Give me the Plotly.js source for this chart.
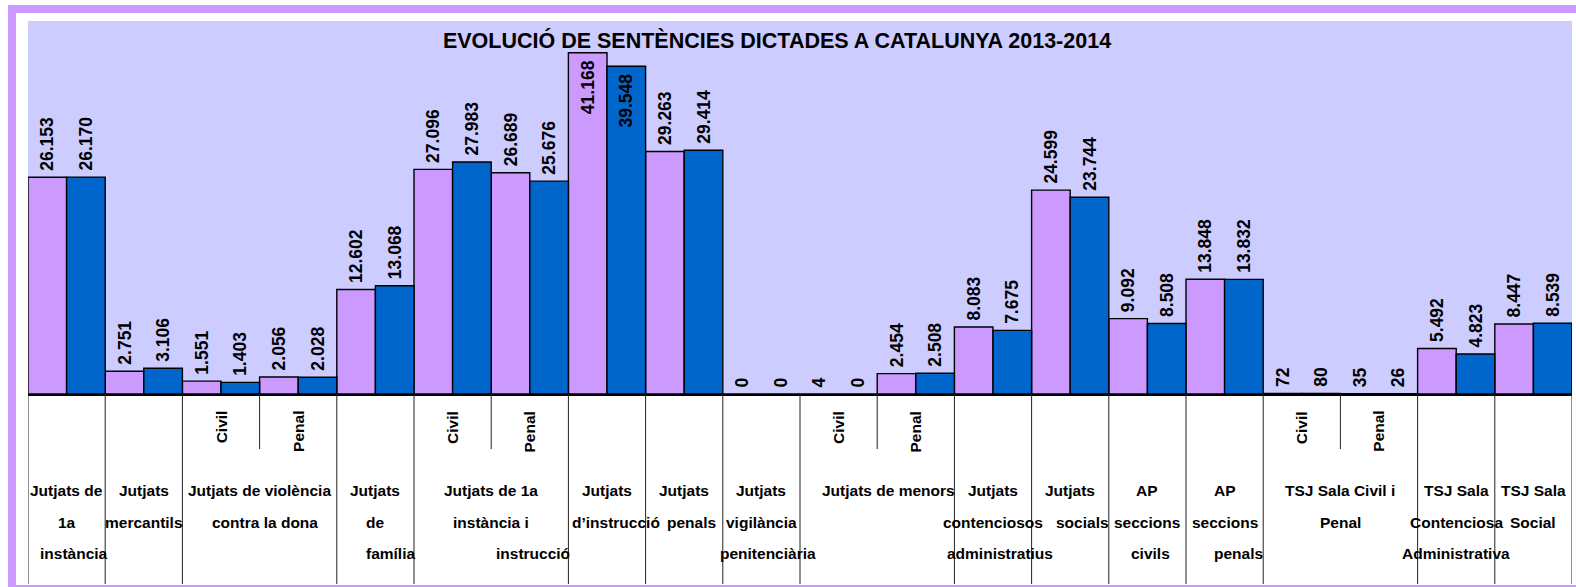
<!DOCTYPE html>
<html>
<head>
<meta charset="utf-8">
<script src="https://cdn.plot.ly/plotly-3.0.1.min.js"></script>
<style>html,body{margin:0;padding:0;background:#fff;}#chart{width:1576px;height:587px;}</style>
</head>
<body>
<div id="chart"></div>
<script>
// ---- data ----
const slots = ["1a instància","mercantils","violència Civil","violència Penal","família",
  "1a inst. i instr. Civil","1a inst. i instr. Penal","instrucció","penals","vigilància penitenciària",
  "menors Civil","menors Penal","contenciosos administratius","socials","AP civils","AP penals",
  "TSJ Civil","TSJ Penal","TSJ Contenciosa","TSJ Social"];
const values2013 = [26153, 2751, 1551, 2056, 12602, 27096, 26689, 41168, 29263, 0,
  4, 2454, 8083, 24599, 9092, 13848, 72, 35, 5492, 8447];
const values2014 = [26170, 3106, 1403, 2028, 13068, 27983, 25676, 39548, 29414, 0,
  0, 2508, 7675, 23744, 8508, 13832, 80, 26, 4823, 8539];
// main categories: [first slot, last slot, lines]
const mainCats = [
  [0, 0, ["Jutjats de", "1a", "instància"]],
  [1, 1, ["Jutjats", "mercantils"]],
  [2, 3, ["Jutjats de violència", "contra la dona"]],
  [4, 4, ["Jutjats", "de", "família"]],
  [5, 6, ["Jutjats de 1a", "instància i", "instrucció"]],
  [7, 7, ["Jutjats", "d\u2019instrucció"]],
  [8, 8, ["Jutjats", "penals"]],
  [9, 9, ["Jutjats", "vigilància", "penitenciària"]],
  [10, 11, ["Jutjats de menors"]],
  [12, 12, ["Jutjats", "contenciosos", "administratius"]],
  [13, 13, ["Jutjats", "socials"]],
  [14, 14, ["AP", "seccions", "civils"]],
  [15, 15, ["AP", "seccions", "penals"]],
  [16, 17, ["TSJ Sala Civil i", "Penal"]],
  [18, 18, ["TSJ Sala", "Contenciosa", "Administrativa"]],
  [19, 19, ["TSJ Sala", "Social"]]
];
// sub categories: [slot, label]
const subCats = [[2,"Civil"],[3,"Penal"],[5,"Civil"],[6,"Penal"],[10,"Civil"],[11,"Penal"],[16,"Civil"],[17,"Penal"]];
const titleText = "EVOLUCIÓ DE SENTÈNCIES DICTADES A CATALUNYA 2013-2014";

// ---- styling / layout helpers ----
const W = 1576, H = 587;
const L = 28, R = 1572, T = 21, B = 394;
const PW = R - L, PH = B - T;
const px2x = p => (p - L) / PW;
const py2y = p => (B - p) / PH;
// horizontal nudges (px) per main category line, imitating the original label wrapping
const lineShift = [[0,0,7],[0,0],[0,5],[0,0,15],[0,0,42],[0,9],[0,7],[0,0,7],[11],[0,0,7],[0,12],[0,0,3],[0,0,14],[0,0],[0,0,0],[0,0]];
const lineY = [490, 522, 553];
const tableBottom = 584;
const subTop = 411;

const xs = slots.map((_, i) => i);
const valFont = {family: "Liberation Sans, Arial", size: 17.5, color: "#000"};
function barTrace(vals, color) {
  const inside = vals.map(v => v > 35000);
  return {
    type: "bar", x: xs, y: vals,
    marker: {color: color, line: {color: "#000", width: 1.4}},
    texttemplate: inside.map(f => f ? "<b>%{y:,}\u00a0</b>" : "<b>\u2009%{y:,}</b>"),
    textposition: inside.map(f => f ? "inside" : "outside"),
    insidetextanchor: "end",
    textangle: -90,
    textfont: valFont, insidetextfont: valFont, outsidetextfont: valFont,
    constraintext: "none", cliponaxis: false, hoverinfo: "skip"
  };
}
const traces = [barTrace(values2013, "#CC99FF"), barTrace(values2014, "#0066CC")];

const shapes = [];
const annotations = [];
// outer purple frame
const purple = "#CC99FF";
shapes.push({type:"rect", xref:"paper", yref:"paper", x0:px2x(8), x1:px2x(W+5), y0:py2y(13), y1:py2y(5), fillcolor:purple, line:{width:0}, layer:"below"});
shapes.push({type:"rect", xref:"paper", yref:"paper", x0:px2x(8), x1:px2x(16), y0:py2y(H+5), y1:py2y(5), fillcolor:purple, line:{width:0}, layer:"below"});
shapes.push({type:"rect", xref:"paper", yref:"paper", x0:px2x(8), x1:px2x(W+5), y0:py2y(H+5), y1:py2y(585), fillcolor:purple, line:{width:0}, layer:"below"});
// table lines
const lineStyle = {color:"#222", width:1};
const mainBounds = [-0.5];
mainCats.forEach(c => mainBounds.push(c[1] + 0.5));
mainBounds.forEach(b => shapes.push({type:"line", xref:"x", yref:"paper", x0:b, x1:b, y0:0, y1:py2y(tableBottom), line:lineStyle}));
mainCats.forEach(c => {
  for (let s = c[0]; s < c[1]; s++) {
    shapes.push({type:"line", xref:"x", yref:"paper", x0:s+0.5, x1:s+0.5, y0:0, y1:py2y(449), line:lineStyle});
  }
});
const labFont = {family:"Liberation Sans, Arial", size:15.5, color:"#000"};
mainCats.forEach((c, ci) => {
  const cx = (c[0] + c[1]) / 2;
  c[2].forEach((t, li) => {
    annotations.push({xref:"x", yref:"paper", x:cx, y:py2y(lineY[li]), text:"<b>"+t+"</b>", showarrow:false,
      xanchor:"center", yanchor:"middle", xshift:(lineShift[ci][li]||0), font:labFont});
  });
});
// rotated sub labels: top-aligned by measuring their length
const ctx = document.createElement("canvas").getContext("2d");
ctx.font = "bold " + labFont.size + "px 'Liberation Sans', Arial";
subCats.forEach(s => {
  const len = ctx.measureText(s[1]).width;
  annotations.push({xref:"x", yref:"paper", x:s[0], y:py2y(subTop + len / 2), text:"<b>"+s[1]+"</b>", showarrow:false,
    textangle:-90, xanchor:"center", yanchor:"middle", font:labFont});
});

const layout = {
  width: W, height: H,
  margin: {l: L, r: W - R, t: T, b: H - B, pad: 0},
  paper_bgcolor: "#FFFFFF", plot_bgcolor: "#CCCCFF",
  showlegend: false,
  separators: ",.",
  barmode: "group", bargap: 0, bargroupgap: 0,
  title: {text: "<b>" + titleText + "</b>", x: 777 / W, xanchor: "center", y: 1 - 40 / H, yanchor: "middle",
    font: {family: "Liberation Sans, Arial", size: 21.5, color: "#000"}},
  xaxis: {range: [-0.5, 19.5], showticklabels: false, ticks: "", showgrid: false, zeroline: false,
    showline: true, linecolor: "#000", linewidth: 1.5, fixedrange: true},
  yaxis: {range: [0, 45000], visible: false, showgrid: false, zeroline: false, fixedrange: true},
  shapes: shapes, annotations: annotations
};
Plotly.newPlot("chart", traces, layout, {displayModeBar: false, staticPlot: true});
</script>
</body>
</html>
